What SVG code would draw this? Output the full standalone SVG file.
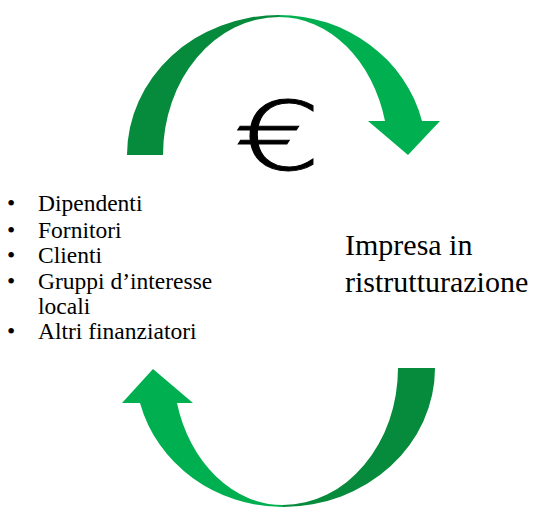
<svg xmlns="http://www.w3.org/2000/svg" width="533" height="507" viewBox="0 0 533 507">
  <style>
    .front { fill: #00b050; }
    .back { fill: #068a3b; }
    .lbl { font-family: "Liberation Serif", "Times New Roman", serif; fill: #000; }
    .list { font-size: 23.5px; }
    .title { font-size: 30px; }
    .sign { font-family: "DejaVu Sans", sans-serif; font-weight: 200; font-size: 95px; fill: #000; stroke: #000; stroke-width: 0.9px; }
  </style>
  <rect width="533" height="507" fill="#ffffff"/>

  <!-- curved arrows forming the cycle -->
  <g id="connectors">
    <g id="arrow-top">
      <path class="back" d="M127,155 A152,140 0 0 1 279,15 L279,17 A116,138 0 0 0 163,155 Z"/>
      <path class="front" d="M279,15 A147.4,140 0 0 1 422,121 L440,121 L408,155 L368,121 L385,121 A109.4,138 0 0 0 279,17 Z"/>
    </g>
    <g id="arrow-bottom">
      <path class="back" d="M435,368 A152,139 0 0 1 283,507 L283,505 A115,137 0 0 0 398,368 Z"/>
      <path class="front" d="M283,507 A147.7,139 0 0 1 140,403 L122,403 L153,369 L193,403 L177,403 A109.6,137 0 0 0 283,505 Z"/>
    </g>
  </g>

  <g id="euro">
    <text class="sign" transform="translate(234,169.5) scale(1.45,1)">€</text>
  </g>

  <g id="stakeholders">
    <text class="lbl list" x="7" y="211">•</text>
    <text class="lbl list" x="38" y="211">Dipendenti</text>
    <text class="lbl list" x="7" y="237.5">•</text>
    <text class="lbl list" x="38" y="237.5">Fornitori</text>
    <text class="lbl list" x="7" y="263">•</text>
    <text class="lbl list" x="38" y="263">Clienti</text>
    <text class="lbl list" x="7" y="288.5">•</text>
    <text class="lbl list" x="38" y="288.5">Gruppi d’interesse</text>
    <text class="lbl list" x="38" y="313.5">locali</text>
    <text class="lbl list" x="7" y="339">•</text>
    <text class="lbl list" x="38" y="339">Altri finanziatori</text>
  </g>

  <g id="impresa">
    <text class="lbl title" x="345" y="255">Impresa in</text>
    <text class="lbl title" x="345" y="291.5">ristrutturazione</text>
  </g>
</svg>
